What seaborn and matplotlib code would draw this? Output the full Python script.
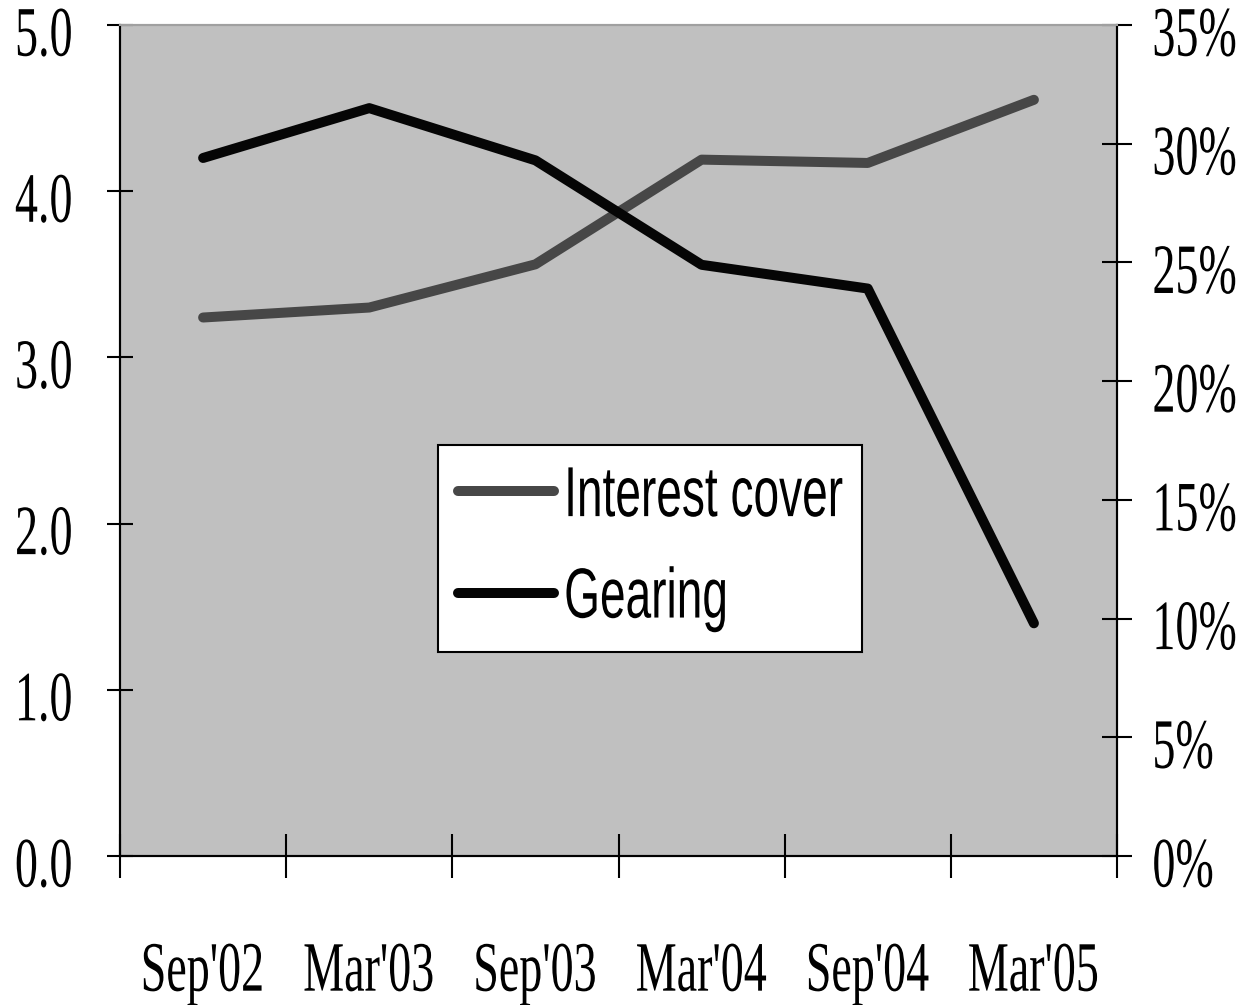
import numpy as np
import pandas as pd
import matplotlib
matplotlib.use("Agg")
import matplotlib.pyplot as plt
import seaborn as sns
from matplotlib.ticker import FuncFormatter, FixedLocator
from matplotlib.patheffects import AbstractPathEffect
from matplotlib.transforms import Affine2D, Bbox
from matplotlib.lines import Line2D

periods = ["Sep'02", "Mar'03", "Sep'03", "Mar'04", "Sep'04", "Mar'05"]
interest_cover = [3.24, 3.30, 3.56, 4.19, 4.17, 4.55]
gearing_pct = [29.4, 31.5, 29.3, 24.9, 23.9, 9.8]
left_ticks = [0.0, 1.0, 2.0, 3.0, 4.0, 5.0]
right_ticks = [0, 5, 10, 15, 20, 25, 30, 35]


class Condense(AbstractPathEffect):
    """Horizontally condense a text path about an anchor (left/center/right)."""
    def __init__(self, sx=0.65, anchor="center", offset=(0, 0)):
        super().__init__(offset=offset)
        self.sx = sx
        self.anchor = anchor

    def draw_path(self, renderer, gc, tpath, affine, rgbFace=None):
        v = tpath.vertices
        if len(v):
            xmin, xmax = v[:, 0].min(), v[:, 0].max()
            x0 = {"left": xmin, "right": xmax, "center": 0.5 * (xmin + xmax)}[self.anchor]
        else:
            x0 = 0
        t = (Affine2D().translate(-x0, 0).scale(self.sx, 1).translate(x0, 0)
             + affine + self._offset_transform(renderer))
        renderer.draw_path(gc, tpath, t, rgbFace)


def condense_text(text, sx, anchor, offset=(0, 0)):
    text.set_path_effects([Condense(sx, anchor, offset)])
    orig = text.get_window_extent

    def extent(renderer=None, dpi=None):
        bb = orig(renderer, dpi)
        x0, x1 = bb.x0, bb.x1
        a = {"left": x0, "right": x1, "center": 0.5 * (x0 + x1)}[anchor]
        return Bbox([[a + (x0 - a) * sx, bb.y0], [a + (x1 - a) * sx, bb.y1]])

    text.get_window_extent = extent


sns.set_theme(style="white")
serif = ["Liberation Serif", "DejaVu Serif"]
sans = ["Liberation Sans", "DejaVu Sans"]
plt.rcParams["font.family"] = serif

df = pd.DataFrame({"pos": np.arange(len(periods)), "period": periods,
                   "Interest cover": interest_cover, "Gearing": gearing_pct})

fig = plt.figure(figsize=(12.4, 10.05), dpi=100)
ax = fig.add_axes([0.0968, 0.1483, 0.9008 - 0.0968, 0.9751 - 0.1483])
ax.set_facecolor("#C0C0C0")
ax2 = ax.twinx()

c_ic = "#474747"
c_g = "#050505"
lw = 7.2
sns.lineplot(data=df, x="pos", y="Interest cover", ax=ax, color=c_ic, lw=lw,
             sort=False, legend=False, solid_joinstyle="round", solid_capstyle="round")
sns.lineplot(data=df, x="pos", y="Gearing", ax=ax2, color=c_g, lw=lw,
             sort=False, legend=False, solid_joinstyle="round", solid_capstyle="round")

n = len(periods)
fs = 51
sx = 0.65
ax.set_xlim(-0.5, n - 0.5)
ax.set_ylim(0, 5)
ax2.set_ylim(0, 35)

ax.set_xticks(np.arange(n))
ax.set_xticklabels(periods)
ax.xaxis.set_minor_locator(FixedLocator(np.arange(n + 1) - 0.5))
ax.tick_params(axis="x", which="major", length=0, pad=61, labelsize=fs)
ax.tick_params(axis="x", which="minor", direction="inout", length=31, width=1.5,
               color="black", bottom=True)

ax.set_yticks(left_ticks)
ax.yaxis.set_major_formatter(FuncFormatter(lambda v, p: f"{v:.1f}"))
ax.tick_params(axis="y", direction="inout", length=19, width=1.5, color="black",
               labelsize=fs, pad=24, left=True)

ax2.set_yticks(right_ticks)
ax2.yaxis.set_major_formatter(FuncFormatter(lambda v, p: f"{int(v)}%"))
ax2.tick_params(axis="y", direction="inout", length=21, width=1.5, color="black",
                labelsize=fs, pad=15, right=True)

for a in (ax, ax2):
    a.set_xlabel("")
    a.set_ylabel("")
    for s in ("left", "right", "bottom"):
        a.spines[s].set_color("black")
        a.spines[s].set_linewidth(1.5)
    a.spines["top"].set_color("#A0A0A0")
    a.spines["top"].set_linewidth(1.5)

for lab in ax.get_xticklabels():
    lab.set_color("black")
    condense_text(lab, sx, "center")
for lab in ax.get_yticklabels():
    lab.set_color("black")
    condense_text(lab, sx, "right", offset=(0, -4))
for lab in ax2.get_yticklabels():
    lab.set_color("black")
    condense_text(lab, sx, "left", offset=(0, -4))

handles = [Line2D([], [], color=c_ic, lw=lw, solid_capstyle="round"),
           Line2D([], [], color=c_g, lw=lw, solid_capstyle="round")]
leg = ax2.legend(handles, ["Interest cover", "Gearing"], loc="lower left",
                 bbox_to_anchor=(0.319, 0.245, 0.425, 0.248), mode="expand",
                 prop={"family": sans, "size": fs}, frameon=True, fancybox=False,
                 edgecolor="black", facecolor="white", framealpha=1,
                 handlelength=1.35, handletextpad=0.15, labelspacing=0.5,
                 borderpad=0.28, borderaxespad=0)
leg.get_frame().set_linewidth(1.5)
for t in leg.get_texts():
    t.set_color("black")
    condense_text(t, sx, "left")

fig.savefig("out.png", dpi=100)
